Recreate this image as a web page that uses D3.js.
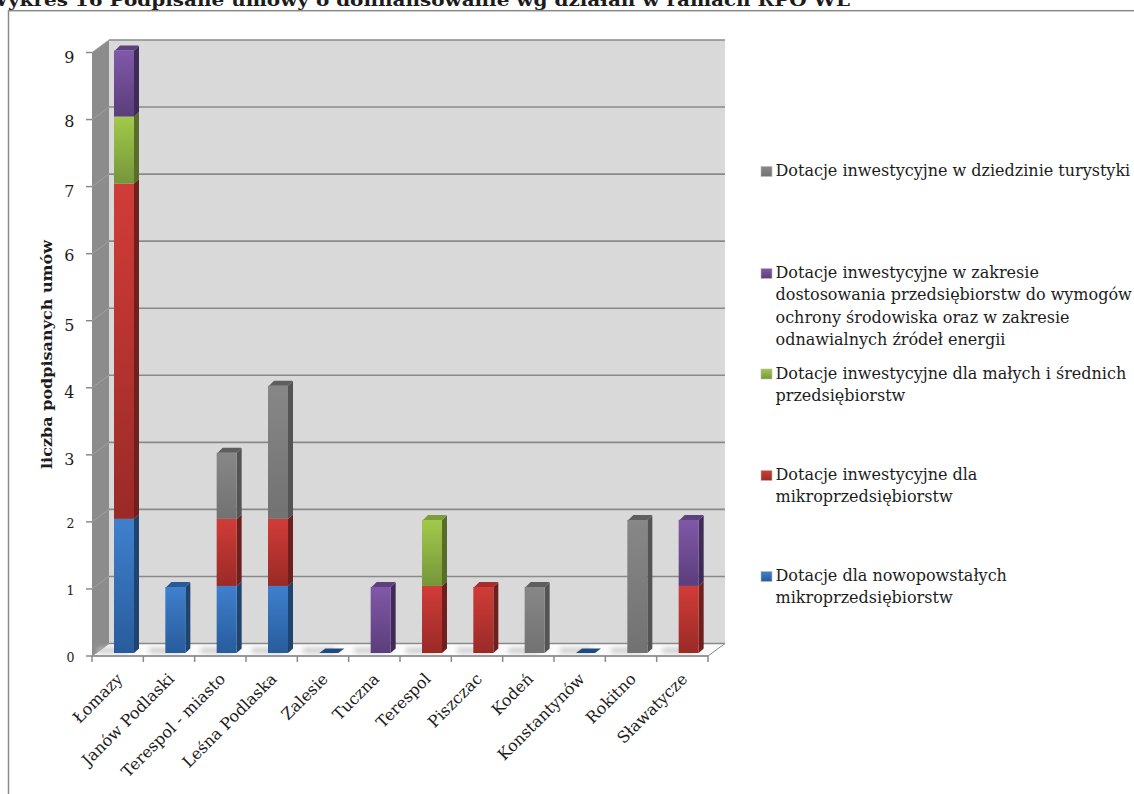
<!DOCTYPE html>
<html><head><meta charset="utf-8">
<script src="https://cdn.jsdelivr.net/npm/d3@7"></script>
<style>html,body{margin:0;padding:0;background:#fff;overflow:hidden}svg{display:block}text{font-family:"DejaVu Serif",serif;fill:#1c1c1c}</style>
</head><body><svg id="c" width="1134" height="794"></svg>
<script>
const titleText = "Wykres 16 Podpisane umowy o dofinansowanie wg działań w ramach RPO WL";
const yAxisTitle = "liczba podpisanych umów";
const categories = ["Łomazy","Janów Podlaski","Terespol - miasto","Leśna Podlaska","Zalesie","Tuczna","Terespol","Piszczac","Kodeń","Konstantynów","Rokitno","Sławatycze"];
const seriesKeys = ["nowo","mikro","msp","srod","tur"];
const nowo  = [2,1,1,1,0,0,0,0,0,0,0,0];
const mikro = [5,0,1,1,0,0,1,1,0,0,0,1];
const msp   = [1,0,0,0,0,0,1,0,0,0,0,0];
const srod  = [1,0,0,0,0,1,0,0,0,0,0,1];
const tur   = [0,0,1,2,0,0,0,0,1,0,2,0];
const seriesValues = {nowo,mikro,msp,srod,tur};
const yTicks = [0,1,2,3,4,5,6,7,8,9];
const palette = {
 nowo:{top:"#3f80cd",bot:"#285c9c",side:"#1f4470",cap:"#2a5a96"},
 mikro:{top:"#d13c38",bot:"#9a2a27",side:"#6f1f1d",cap:"#a82c2a"},
 msp:{top:"#a2c94a",bot:"#76963a",side:"#566e2a",cap:"#7d9c3c"},
 srod:{top:"#8058a8",bot:"#5b3e7c",side:"#3f2b58",cap:"#5d4080"},
 tur:{top:"#878787",bot:"#727272",side:"#545454",cap:"#5e5e5e"}
};
const legendItems = [
 {key:"tur",lines:["Dotacje inwestycyjne w dziedzinie turystyki"],y:176},
 {key:"srod",lines:["Dotacje inwestycyjne w zakresie","dostosowania przedsiębiorstw do wymogów","ochrony środowiska oraz w zakresie","odnawialnych źródeł energii"],y:278},
 {key:"msp",lines:["Dotacje inwestycyjne dla małych i średnich","przedsiębiorstw"],y:378.5},
 {key:"mikro",lines:["Dotacje inwestycyjne dla","mikroprzedsiębiorstw"],y:480},
 {key:"nowo",lines:["Dotacje dla nowopowstałych","mikroprzedsiębiorstw"],y:581}
];
const svg = d3.select("#c");
const defs = svg.append("defs");
seriesKeys.forEach(k=>{
  const g=defs.append("linearGradient").attr("id","g-"+k).attr("x1",0).attr("x2",0).attr("y1",0).attr("y2",1);
  g.append("stop").attr("offset","0%").attr("stop-color",palette[k].top);
  g.append("stop").attr("offset","100%").attr("stop-color",palette[k].bot);
});
defs.append("filter").attr("id","soft").attr("x","-50%").attr("y","-100%").attr("width","200%").attr("height","300%")
  .append("feGaussianBlur").attr("stdDeviation",2.5);
const x = d3.scaleBand().domain(categories).range([92,708]);
const y = d3.scaleLinear().domain([0,9]).range([656,52.5]);
const DX=17, DY=-12.5;
const frame="#8a8a8a";
const [x0,x1]=x.range();
// title + frame
svg.append("text").attr("x",-14).attr("y",5.5).attr("font-size",17).attr("font-weight","bold").attr("fill","#333").attr("textLength",864).attr("lengthAdjust","spacingAndGlyphs").text(titleText);
svg.append("rect").attr("x",8.5).attr("y",10.7).attr("width",1140).attr("height",800).attr("fill","#fff").attr("stroke",frame).attr("stroke-width",1.5);
// back wall
svg.append("rect").attr("x",x0+DX).attr("y",y(9)+DY).attr("width",x1-x0).attr("height",y(0)-y(9)).attr("fill","#d9d9d9");
// side wall
svg.append("path").attr("d",d3.line()([[x0,y(0)],[x0,y(9)],[x0+DX,y(9)+DY],[x0+DX,y(0)+DY]])+"Z").attr("fill","#8c8c8c");
// floor
svg.append("path").attr("d",d3.line()([[x0,y(0)],[x1,y(0)],[x1+DX,y(0)+DY],[x0+DX,y(0)+DY]])+"Z").attr("fill","#fbfbfb").attr("stroke",frame).attr("stroke-width",1);
// floor shadows
const gs=svg.append("g").attr("filter","url(#soft)").attr("fill","#c9c9c9");
categories.forEach(c=>{
  gs.append("rect").attr("x",x(c)+6).attr("y",y(0)-8).attr("width",x.bandwidth()-20).attr("height",5);
});
// gridlines
yTicks.forEach(t=>{
  const p=svg.append("g").attr("fill","none");
  p.append("path").attr("d",d3.line()([[x0+DX,y(t)+DY],[x1+DX,y(t)+DY]])).attr("stroke",frame).attr("stroke-width",1.6);
  p.append("path").attr("d",d3.line()([[x0,y(t)],[x0+DX,y(t)+DY]])).attr("stroke-width",1).attr("stroke","#a0a0a0");
});
// front axes
const ax=svg.append("g").attr("stroke",frame).attr("fill","none").attr("stroke-width",1.5);
ax.append("path").attr("d",d3.line()([[x0,y(0)],[x1,y(0)]]));
yTicks.forEach(t=>ax.append("path").attr("d",d3.line()([[86,y(t)],[x0,y(t)]])));
d3.range(13).forEach(i=>{const px=x0+i*x.bandwidth();ax.append("path").attr("d",d3.line()([[px,y(0)],[px,y(0)+6]]));});
// y labels: the original's numerals are old-style, so low digits are small and some descend
const isSmall=t=>t<3, descends=t=>[3,4,5,7,9].includes(t);
svg.append("g").selectAll("text").data(yTicks).join("text")
 .attr("x",74.5).attr("y",t=>y(t)+(isSmall(t)?6:descends(t)?10:7))
 .attr("text-anchor","end").attr("font-size",t=>isSmall(t)?12.5:16).text(d=>d);
// y title
svg.append("text").attr("transform","translate(52,354.5) rotate(-90)").attr("text-anchor","middle").attr("font-size",14.5).attr("font-weight","bold").attr("textLength",229).attr("lengthAdjust","spacingAndGlyphs").text(yAxisTitle);
// bars
const barInset=22, barW=20, sideW=5, rise=4.5, lift=3;
const stackGen=d3.stack().keys(seriesKeys)(categories.map((c,i)=>{const o={c};seriesKeys.forEach(k=>o[k]=seriesValues[k][i]);return o;}));
const gb=svg.append("g");
categories.forEach((c,i)=>{
  const left=x(c)+barInset;
  const yb=v=>y(v)-lift;
  const active=stackGen.filter(s=>s[i][1]>s[i][0]);
  if(!active.length){
    gb.append("path").attr("d",d3.line()([[left,yb(0)],[left+barW-1,yb(0)],[left+barW+sideW,yb(0)-rise],[left+sideW+1,yb(0)-rise]])+"Z").attr("fill","#1f4a80");
    return;
  }
  active.forEach((s,j)=>{
    const k=s.key,[a,b]=s[i],isTop=j===active.length-1;
    const ya=yb(a),ybb=yb(b)+(isTop?1:0);
    gb.append("path").attr("d",d3.line()([[left+barW,ya],[left+barW+sideW,ya-rise],[left+barW+sideW,ybb-rise],[left+barW,ybb]])+"Z").attr("fill",palette[k].side);
    gb.append("rect").attr("x",left).attr("y",ybb).attr("width",barW).attr("height",ya-ybb).attr("fill",`url(#g-${k})`);
    if(isTop) gb.append("path").attr("d",d3.line().curve(d3.curveLinearClosed)([[left,ybb+1],[left+1.5,ybb],[left+barW,ybb],[left+barW+sideW,ybb-rise],[left+barW+sideW-1,ybb-rise-.5],[left+sideW+1,ybb-rise-.5]])).attr("fill",palette[k].cap);
  });
});
// category labels
svg.append("g").selectAll("text").data(categories).join("text")
 .attr("text-anchor","end").attr("font-size",16)
 .attr("transform",c=>`translate(${x(c)+x.bandwidth()/2+6},${y(0)+24}) rotate(-45)`).text(d=>d);
// legend
const lg=svg.append("g");
legendItems.forEach(it=>{
  lg.append("rect").attr("x",761).attr("y",it.y-9.5).attr("width",11).attr("height",10).attr("fill",`url(#g-${it.key})`).attr("stroke","#bbb").attr("stroke-width",.6);
  it.lines.forEach((l,i)=>lg.append("text").attr("x",775.5).attr("y",it.y+i*22.3).attr("font-size",16).text(l));
});
</script></body></html>
